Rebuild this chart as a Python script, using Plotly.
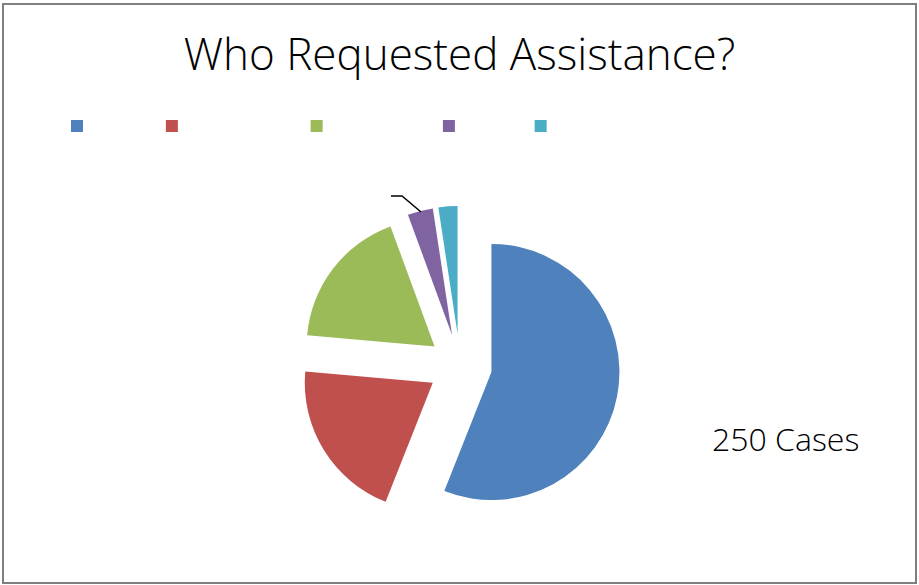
import plotly.graph_objects as go

# Data
categories = ["\u00a0" * 16, "\u00a0" * 32, "\u00a0" * 28, "\u00a0" * 15, "\u00a0" * 2]
values = [140, 51, 45, 8, 6]
colors = ["#4F81BD", "#C0504D", "#9BBB59", "#8064A2", "#4BACC6"]
title_text = "Who Requested Assistance?"
total_text = "250 Cases"

W, H = 919, 585

fig = go.Figure(go.Pie(
    labels=categories,
    values=values,
    sort=False,
    direction="clockwise",
    rotation=0,
    pull=[0.25] * len(values),
    textinfo="none",
    marker=dict(colors=colors, line=dict(width=0)),
    domain=dict(x=[300 / W, 620 / W], y=[1 - 526 / H, 1 - 206 / H]),
    showlegend=True,
))

fig.update_layout(
    width=W, height=H,
    margin=dict(l=0, r=0, t=0, b=0),
    paper_bgcolor="white",
    plot_bgcolor="white",
    font=dict(family="Open Sans", color="black"),
    title=dict(text=title_text, x=0.5, xanchor="center", y=1 - 55 / H, yanchor="middle",
               font=dict(family="Open Sans", size=44, color="black", weight=300)),
    legend=dict(orientation="h", x=57 / W, xanchor="left", y=1 - 126 / H, yanchor="middle",
                font=dict(size=12, color="black"), itemclick=False, traceorder="normal"),
    annotations=[dict(text=total_text, x=785 / W, y=1 - 438 / H, xref="paper", yref="paper",
                      xanchor="center", yanchor="middle",
                      showarrow=False, font=dict(family="Open Sans", size=32, color="black", weight=300))],
    shapes=[
        dict(type="rect", xref="paper", yref="paper", x0=3 / W, x1=916 / W, y0=1 - 583 / H, y1=1 - 4 / H,
             line=dict(color="#7f7f7f", width=2)),
        dict(type="path", xref="paper", yref="paper",
             path=f"M {391/W} {1-196/H} L {402/W} {1-196/H} L {421/W} {1-212/H}",
             line=dict(color="black", width=1.5)),
    ],
)

fig.write_html("out.html")
